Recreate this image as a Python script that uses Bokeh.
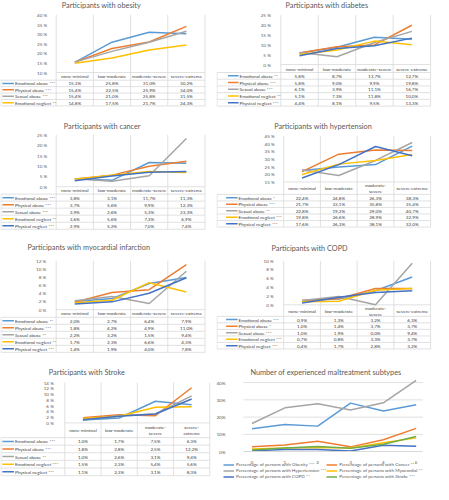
from bokeh.plotting import figure
from bokeh.models import Range1d, FixedTicker, CustomJSTickFormatter, Legend, LegendItem
from bokeh.layouts import column, row
from bokeh.embed import file_html
from bokeh.resources import INLINE
from bokeh.core.properties import value

# ---------------- data ----------------
CATEGORIES = ["none-minimal", "low-moderate", "moderate-severe", "severe-extreme"]
CATEGORIES_WRAP1 = ["none-minimal", "low-moderate", "moderate-\nsevere", "severe-extreme"]
CATEGORIES_WRAP2 = ["none-minimal", "low-moderate", "moderate-\nsevere", "severe-\nextreme"]
SERIES = ["Emotional abuse", "Physical abuse", "Sexual abuse", "Emotional neglect", "Physical neglect"]

obesity_stars = ["***", "***", "***", "**"]
obesity_values = [[15.3, 25.8, 31.0, 30.2],
                  [15.4, 22.5, 25.9, 34.0],
                  [15.4, 21.0, 25.8, 31.5],
                  [14.8, 17.5, 21.7, 24.3]]
obesity_ticks = [10, 15, 20, 25, 30, 35, 40]

diabetes_stars = ["**", "***", "***", "**", "***"]
diabetes_values = [[5.8, 8.7, 13.7, 12.7],
                   [5.8, 9.0, 9.9, 19.8],
                   [6.1, 3.9, 11.1, 16.7],
                   [5.1, 7.3, 11.8, 10.0],
                   [4.4, 8.1, 9.5, 13.3]]
diabetes_ticks = [0, 5, 10, 15, 20, 25]

cancer_stars = ["***", "***", "***", "**", "***"]
cancer_values = [[3.8, 3.1, 11.7, 11.3],
                 [3.7, 5.6, 9.9, 12.3],
                 [3.9, 2.6, 5.3, 23.3],
                 [3.6, 5.6, 7.3, 6.9],
                 [2.9, 5.2, 7.0, 7.4]]
cancer_ticks = [0, 5, 10, 15, 20, 25]

hypertension_stars = ["*", "***", "**", "***", "***"]
hypertension_values = [[22.4, 24.8, 26.3, 38.3],
                       [21.7, 33.1, 35.8, 35.4],
                       [22.8, 19.2, 29.0, 40.7],
                       [19.8, 26.6, 28.9, 32.9],
                       [17.6, 26.3, 38.1, 32.0]]
hypertension_ticks = [15, 20, 25, 30, 35, 40, 45]

mi_stars = ["**", "***", "**", "**", "***"]
mi_values = [[2.0, 2.7, 6.4, 7.9],
             [1.8, 4.2, 4.9, 11.0],
             [2.2, 3.2, 1.5, 9.4],
             [1.7, 2.3, 6.6, 4.3],
             [1.4, 1.9, 4.0, 7.8]]
mi_ticks = [0, 2, 4, 6, 8, 10, 12]

copd_stars = ["***", "*", "***", "***", "***"]
copd_values = [[0.9, 1.3, 3.2, 6.3],
               [1.0, 1.4, 3.7, 3.7],
               [1.0, 1.9, 0.0, 9.4],
               [0.7, 0.8, 3.3, 3.7],
               [0.4, 1.7, 2.8, 3.2]]
copd_ticks = [0, 2, 4, 6, 8, 10]

stroke_stars = ["***", "***", "**", "***", "***"]
stroke_values = [[1.0, 1.7, 7.5, 6.3],
                 [1.8, 2.8, 2.5, 12.2],
                 [1.0, 2.6, 3.1, 9.4],
                 [1.5, 2.3, 5.4, 5.6],
                 [1.1, 2.3, 3.1, 8.3]]
stroke_ticks = [0, 2, 4, 6, 8, 10, 12, 14]

subtype_counts = [0, 1, 2, 3, 4, 5]
subtype_labels = ["Percentage of persons with Obesity ***", "Percentage of persons with Cancer ***",
                  "Percentage of persons with Hypertension ***", "Percentage of persons with Myocardial **",
                  "Percentage of persons with COPD **", "Percentage of persons with Stroke ***"]
subtype_obesity = [13.3, 15.7, 14.8, 28.1, 23.5, 27.2]
subtype_cancer = [2.8, 3.9, 6.1, 2.8, 6.9, 13.5]
subtype_hypertension = [16.3, 25.4, 27.8, 24.1, 28.3, 41.3]
subtype_myocardial = [1.5, 2.2, 2.5, 2.2, 5.2, 8.0]
subtype_copd = [0.5, 1.3, 1.3, 0.4, 3.7, 3.2]
subtype_stroke = [1.0, 2.2, 3.0, 2.0, 4.3, 8.8]
subtype_ticks = [0, 10, 20, 30, 40]

# ---------------- style / layout ----------------
SERIES_COLORS = ["#5B9BD5", "#ED7D31", "#A5A5A5", "#FFC000", "#4472C4"]
SUBTYPE_COLORS = ["#5B9BD5", "#ED7D31", "#A5A5A5", "#FFC000", "#4472C4", "#70AD47"]
FONT = "Lato"
TXT = "#404040"
TXT2 = "#595959"
RULE = "#D9D9D9"
REF_W, REF_H = 225, 125
FIG_W, FIG_H = 216, 120
SCALE = FIG_W / REF_W
TITLE_SIZE = "7.3px"
SMALL = "4.6px"


def fmt_pct(v):
    return f"{v:.1f}".replace(".", ",") + "%"


def base_figure(xr, yr):
    p = figure(width=FIG_W, height=FIG_H, x_range=xr, y_range=yr,
               output_backend="svg", toolbar_location=None, min_border=0)
    p.extra_x_ranges = {"px": Range1d(0, REF_W)}
    p.extra_y_ranges = {"px": Range1d(REF_H, 0)}
    p.outline_line_color = None
    p.grid.visible = False
    p.background_fill_color = "white"
    p.border_fill_color = "white"
    if p.title is not None:
        p.title.visible = False
    return p


def style_yaxis(ax, ticks, loc, standoff, fmt):
    ax.fixed_location = loc
    ax.ticker = FixedTicker(ticks=ticks)
    ax.formatter = CustomJSTickFormatter(code=fmt)
    ax.axis_line_color = None
    ax.major_tick_line_color = None
    ax.minor_tick_line_color = None
    ax.major_label_standoff = standoff
    ax.major_label_text_font_size = SMALL
    ax.major_label_text_color = TXT2
    ax.major_label_text_font = FONT


def panel(title, values, stars, ticks, headers, lay):
    n = len(CATEGORIES)
    col_left, col_right = lay["cols"]
    unit = (col_right - col_left) / n
    xr = Range1d(-0.5 - col_left / unit, n - 0.5 + (REF_W - col_right) / unit)
    y_top, y_bot = lay["ypx"]
    per = (y_bot - y_top) / (ticks[-1] - ticks[0])
    yr = Range1d(ticks[0] - (REF_H - y_bot) / per, ticks[-1] + y_top / per)
    p = base_figure(xr, yr)
    p.xaxis.visible = False
    style_yaxis(p.yaxis[0], ticks, -0.5,
                int(round((col_left - lay["tick_right"]) * SCALE)), "return tick + ' %';")

    rows = lay["rows"]
    xs = list(range(n))
    bounds = [i - 0.5 for i in range(n + 1)]
    # vertical cell borders / gridlines
    p.segment(x0=bounds, x1=bounds, y0=[y_top] * len(bounds), y1=[rows[-1]] * len(bounds),
              y_range_name="px", line_color=RULE, line_width=0.8)
    # header top line (axis line)
    p.segment(x0=[col_left], x1=[col_right], y0=[y_bot], y1=[y_bot],
              x_range_name="px", y_range_name="px", line_color=RULE, line_width=0.8)
    # row lines
    p.segment(x0=[0.5] * len(rows), x1=[col_right] * len(rows), y0=rows, y1=rows,
              x_range_name="px", y_range_name="px", line_color=RULE, line_width=0.8)
    p.segment(x0=[0.5], x1=[0.5], y0=[rows[0]], y1=[rows[-1]],
              x_range_name="px", y_range_name="px", line_color=RULE, line_width=0.8)

    # header labels
    p.text(x=xs, y=[(y_bot + rows[0]) / 2] * n, text=headers, x_range_name="default",
           y_range_name="px", text_font=value(FONT), text_font_size=SMALL, text_color=TXT,
           text_align="center", text_baseline="middle", text_line_height=1.0)

    # series lines
    for s, vals in enumerate(values):
        p.line(xs, vals, line_color=SERIES_COLORS[s], line_width=1.5)

    # table rows
    for s, vals in enumerate(values):
        yc = (rows[s] + rows[s + 1]) / 2
        sw0, sw1 = lay["swatch"]
        p.segment(x0=[sw0], x1=[sw1], y0=[yc], y1=[yc], x_range_name="px", y_range_name="px",
                  line_color=SERIES_COLORS[s], line_width=1.5)
        p.text(x=[lay["text_x"]], y=[yc], text=[f"{SERIES[s]} {stars[s]}"],
               x_range_name="px", y_range_name="px", text_font=value(FONT), text_font_size=SMALL,
               text_color=TXT, text_align="left", text_baseline="middle")
        p.text(x=xs, y=[yc] * n, text=[fmt_pct(v) for v in vals], y_range_name="px",
               text_font=value(FONT), text_font_size=SMALL, text_color=TXT,
               text_align="center", text_baseline="middle")

    # title
    p.text(x=[lay["title"][0]], y=[lay["title"][1]], text=[title], x_range_name="px", y_range_name="px",
           text_font=value(FONT), text_font_size=TITLE_SIZE, text_color=TXT2,
           text_align="center", text_baseline="middle")
    return p


def subtype_panel():
    x_first, x_last = 37, 208
    area_left, area_right = 28, 215
    unit = (x_last - x_first) / (subtype_counts[-1] - subtype_counts[0])
    xr = Range1d(subtype_counts[0] - x_first / unit, subtype_counts[-1] + (REF_W - x_last) / unit)
    y_top, y_bot = 23, 95
    per = (y_bot - y_top) / (subtype_ticks[-1] - subtype_ticks[0])
    yr = Range1d(subtype_ticks[0] - (REF_H - y_bot) / per, subtype_ticks[-1] + y_top / per)
    p = base_figure(xr, yr)
    left_d = subtype_counts[0] - (x_first - area_left) / unit
    right_d = subtype_counts[-1] + (area_right - x_last) / unit

    # gridlines
    gl = subtype_ticks[1:]
    p.segment(x0=[left_d] * len(gl), x1=[right_d] * len(gl), y0=gl, y1=gl,
              line_color=RULE, line_width=0.8)

    xa = p.xaxis[0]
    xa.fixed_location = 0
    xa.bounds = (left_d, right_d)
    xa.ticker = FixedTicker(ticks=subtype_counts)
    xa.axis_line_color = RULE
    xa.major_tick_line_color = None
    xa.minor_tick_line_color = None
    xa.major_label_standoff = 3
    xa.major_label_text_font_size = SMALL
    xa.major_label_text_color = TXT2
    xa.major_label_text_font = FONT
    style_yaxis(p.yaxis[0], subtype_ticks, left_d, int(round((area_left - 15) * SCALE)),
                "return tick + '%';")

    series = [subtype_obesity, subtype_cancer, subtype_hypertension,
              subtype_myocardial, subtype_copd, subtype_stroke]
    items = []
    for i, vals in enumerate(series):
        r = p.line(subtype_counts, vals, line_color=SUBTYPE_COLORS[i], line_width=1.5)
        items.append(LegendItem(label=subtype_labels[i], renderers=[r]))
    leg = Legend(items=items, orientation="horizontal", ncols=2, location=(int(8 * SCALE), 1),
                 label_text_font=FONT, label_text_font_size=SMALL, label_text_color=TXT2,
                 glyph_width=11, glyph_height=5, label_height=5, label_standoff=2,
                 spacing=0, padding=0, margin=0, border_line_color=None,
                 background_fill_alpha=0)
    p.add_layout(leg)

    p.text(x=[114], y=[13], text=["Number of experienced maltreatment subtypes"],
           x_range_name="px", y_range_name="px", text_font=value(FONT), text_font_size=TITLE_SIZE,
           text_color=TXT2, text_align="center", text_baseline="middle")
    return p


p1 = panel("Participants with obesity", obesity_values, obesity_stars, obesity_ticks, CATEGORIES,
           dict(cols=(58, 213), ypx=(15, 75), tick_right=55, rows=[83, 89.7, 96.4, 103.1, 109.8],
                swatch=(2, 14), text_x=15, title=(105, 5)))
p2 = panel("Participants with diabetes", diabetes_values, diabetes_stars, diabetes_ticks, CATEGORIES,
           dict(cols=(67, 223), ypx=(15, 66.7), tick_right=63, rows=[75, 82, 89, 96, 103, 110],
                swatch=(12, 23), text_x=24, title=(115, 5)))
p3 = panel("Participants with cancer", cancer_values, cancer_stars, cancer_ticks, CATEGORIES,
           dict(cols=(58, 213), ypx=(15, 69), tick_right=55, rows=[76.7, 84, 91.3, 98.6, 106, 113.3],
                swatch=(2, 14), text_x=15, title=(106, 6)))
p4 = panel("Participants with hypertension", hypertension_values, hypertension_stars, hypertension_ticks,
           CATEGORIES_WRAP1,
           dict(cols=(70, 223), ypx=(16, 64), tick_right=67, rows=[77, 83.8, 90.6, 97.4, 104.2, 111],
                swatch=(10, 22), text_x=23, title=(111, 6)))
p5 = panel("Participants with myocardial infarction", mi_values, mi_stars, mi_ticks, CATEGORIES,
           dict(cols=(58, 213), ypx=(21, 72), tick_right=54, rows=[80, 87.3, 94.6, 101.9, 109.2, 116.5],
                swatch=(2, 14), text_x=15, title=(92, 7)))
p6 = panel("Participants with COPD", copd_values, copd_stars, copd_ticks, CATEGORIES_WRAP1,
           dict(cols=(70, 223), ypx=(21, 67), tick_right=66, rows=[79, 85.8, 92.6, 99.4, 106.2, 113],
                swatch=(10, 22), text_x=23, title=(97, 8)))
p7 = panel("Participants with Stroke", stroke_values, stroke_stars, stroke_ticks, CATEGORIES_WRAP2,
           dict(cols=(67, 218), ypx=(23, 65), tick_right=62, rows=[80.3, 88.2, 96.1, 104, 112, 120],
                swatch=(2, 14), text_x=15, title=(90, 13)))
p8 = subtype_panel()

layout = column(row(p1, p2, spacing=0), row(p3, p4, spacing=0), row(p5, p6, spacing=0),
                row(p7, p8, spacing=0), spacing=0)

open("out.html", "w").write(file_html(layout, INLINE))
